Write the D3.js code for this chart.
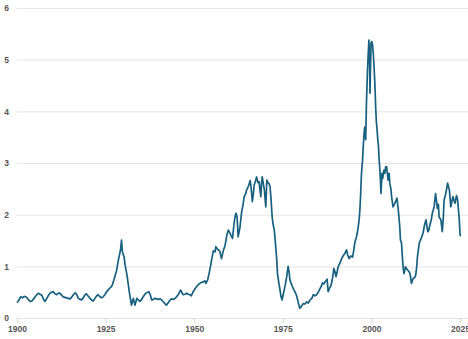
<!DOCTYPE html>
<html>
<head>
<meta charset="utf-8">
<script src="https://cdn.jsdelivr.net/npm/d3@7/dist/d3.min.js"></script>
<style>
  html, body { margin: 0; padding: 0; background: #fff; }
  svg { display: block; }
  .tick text { font-family: "Liberation Sans", Arial, sans-serif; font-weight: bold; font-size: 8.5px; fill: #555; }
</style>
</head>
<body>
<svg id="chart" width="468" height="339"></svg>
<script>
// Ratio series, sampled as decimal years
const years = [
  1900.0,1900.5,1901.0,1901.5,1902.0,1902.7,1903.3,1903.7,1904.2,1904.6,1905.2,1905.6,1906.0,1906.5,1907.0,1907.5,1907.9,
  1908.4,1908.9,1909.3,1909.8,1910.2,1910.7,1911.2,1911.6,1912.0,1912.5,1913.0,1913.5,1914.0,1914.5,1915.0,1915.4,1915.9,
  1916.4,1916.9,1917.3,1917.8,1918.2,1918.7,1919.1,1919.5,1920.0,1920.6,1921.0,1921.5,1922.0,1922.5,1922.9,1923.4,1923.9,
  1924.3,1924.8,1925.2,1925.7,1926.2,1926.7,1927.1,1927.6,1928.1,1928.6,1929.0,1929.2,1929.5,1929.7,1929.9,1930.2,1930.5,
  1930.8,1931.1,1931.5,1931.9,1932.3,1932.6,1932.8,1933.1,1933.3,1933.6,1933.8,1934.2,1934.7,1935.2,1935.6,1936.1,1936.6,
  1937.2,1937.6,1938.0,1938.4,1938.9,1939.4,1939.9,1940.4,1940.8,1941.2,1941.7,1942.2,1942.7,1943.2,1943.6,1944.1,1944.6,
  1945.0,1945.5,1946.0,1946.2,1946.6,1946.9,1947.4,1947.9,1948.3,1948.8,1949.2,1949.7,1950.2,1950.7,1951.1,1951.6,1952.1,
  1952.6,1953.0,1953.3,1953.8,1954.2,1954.6,1954.9,1955.4,1955.9,1956.1,1956.5,1956.8,1957.2,1957.7,1958.2,1958.7,1959.2,
  1959.6,1960.0,1960.3,1960.8,1961.2,1961.5,1961.8,1962.1,1962.4,1962.9,1963.4,1963.8,1964.1,1964.5,1964.8,1965.1,1965.4,
  1965.8,1966.1,1966.4,1966.7,1966.9,1967.3,1967.6,1968.0,1968.3,1968.6,1968.8,1969.0,1969.2,1969.5,1969.8,1970.2,1970.5,
  1970.8,1971.1,1971.4,1971.7,1972.0,1972.3,1972.6,1972.8,1973.0,1973.3,1973.5,1973.9,1974.2,1974.5,1974.8,1975.1,1975.4,
  1975.8,1976.1,1976.5,1976.8,1977.0,1977.4,1977.7,1978.1,1978.4,1978.8,1979.2,1979.5,1979.8,1980.2,1980.5,1980.8,1981.2,
  1981.7,1982.2,1982.7,1983.2,1983.6,1984.1,1984.5,1985.0,1985.5,1985.9,1986.2,1986.6,1986.9,1987.2,1987.5,1987.8,1988.2,
  1988.5,1988.9,1989.2,1989.4,1989.7,1990.0,1990.3,1990.6,1991.1,1991.6,1992.0,1992.5,1993.0,1993.3,1993.7,1994.2,1994.7,
  1995.0,1995.3,1995.7,1996.0,1996.3,1996.6,1996.8,1997.0,1997.2,1997.5,1997.7,1998.0,1998.2,1998.4,1998.6,1998.9,1999.1,
  1999.3,1999.5,1999.6,1999.8,1999.9,2000.1,2000.3,2000.5,2000.7,2001.0,2001.2,2001.4,2001.6,2001.8,2002.0,2002.2,2002.4,
  2002.6,2002.7,2003.0,2003.2,2003.5,2003.8,2004.0,2004.3,2004.7,2005.0,2005.2,2005.5,2005.7,2006.1,2006.6,2007.0,2007.2,
  2007.6,2008.0,2008.2,2008.5,2008.8,2009.0,2009.2,2009.6,2010.0,2010.2,2010.6,2010.9,2011.3,2011.8,2012.2,2012.5,2012.8,
  2013.0,2013.5,2013.8,2014.2,2014.6,2014.9,2015.4,2015.9,2016.2,2016.5,2016.9,2017.2,2017.7,2018.1,2018.4,2018.6,2018.9,
  2019.1,2019.6,2020.0,2020.3,2020.5,2021.0,2021.5,2022.0,2022.4,2022.7,2023.0,2023.3,2023.6,2024.0,2024.3,2024.5,2024.8,
  2025.0,2025.1
];

const values = [
  0.30,0.34,0.41,0.39,0.42,0.40,0.35,0.32,0.33,0.36,0.42,0.45,0.48,0.46,0.44,0.36,0.32,
  0.38,0.44,0.48,0.50,0.51,0.47,0.45,0.48,0.48,0.45,0.41,0.40,0.39,0.38,0.37,0.40,0.45,
  0.49,0.45,0.38,0.36,0.35,0.39,0.44,0.47,0.43,0.38,0.35,0.33,0.38,0.43,0.45,0.41,0.39,
  0.41,0.45,0.50,0.54,0.58,0.61,0.68,0.80,0.92,1.12,1.25,1.32,1.51,1.30,1.24,1.19,1.03,
  0.92,0.80,0.60,0.41,0.25,0.33,0.38,0.30,0.25,0.33,0.38,0.35,0.32,0.36,0.41,0.46,0.49,
  0.51,0.45,0.35,0.36,0.38,0.37,0.36,0.37,0.35,0.32,0.28,0.25,0.30,0.35,0.37,0.36,0.38,
  0.41,0.45,0.52,0.54,0.48,0.45,0.46,0.48,0.46,0.45,0.43,0.51,0.56,0.61,0.64,0.67,0.69,
  0.70,0.72,0.67,0.74,0.86,1.00,1.12,1.30,1.28,1.38,1.34,1.32,1.30,1.15,1.30,1.40,1.60,
  1.70,1.66,1.61,1.54,1.80,1.95,2.03,1.96,1.57,1.75,2.06,2.20,2.35,2.40,2.48,2.52,2.57,
  2.66,2.50,2.25,2.40,2.57,2.65,2.73,2.62,2.64,2.45,2.35,2.60,2.73,2.60,2.48,2.15,2.67,
  2.62,2.60,2.55,2.28,1.95,1.80,1.70,1.55,1.38,1.12,0.86,0.67,0.55,0.41,0.35,0.45,0.54,
  0.68,0.80,1.00,0.88,0.74,0.66,0.61,0.55,0.51,0.45,0.35,0.26,0.19,0.22,0.25,0.28,0.27,
  0.31,0.29,0.35,0.38,0.45,0.43,0.45,0.50,0.57,0.62,0.68,0.66,0.70,0.72,0.75,0.51,0.58,
  0.61,0.72,0.85,0.96,0.90,0.80,0.88,0.99,1.06,1.15,1.20,1.25,1.32,1.22,1.15,1.20,1.18,
  1.30,1.45,1.55,1.64,1.77,1.95,2.15,2.45,2.80,3.05,3.32,3.64,3.70,3.45,4.15,4.80,5.10,
  5.38,4.90,4.35,5.00,5.32,5.35,5.30,5.15,4.93,4.50,4.09,3.80,3.64,3.45,3.32,3.05,2.86,
  2.60,2.41,2.80,2.70,2.86,2.80,2.92,2.93,2.67,2.80,2.60,2.50,2.35,2.15,2.22,2.28,2.32,
  2.09,1.77,1.51,1.45,1.12,0.95,0.86,0.99,0.95,0.93,0.90,0.86,0.67,0.77,0.78,0.83,1.00,
  1.19,1.45,1.50,1.57,1.65,1.77,1.90,1.67,1.70,1.80,1.90,2.03,2.15,2.41,2.25,2.12,2.20,
  1.96,1.90,1.67,1.95,2.28,2.41,2.61,2.48,2.15,2.25,2.35,2.28,2.22,2.37,2.30,2.15,1.90,
  1.64,1.58
];

const xTickValues = [1900, 1925, 1950, 1975, 2000, 2025];
const yTickValues = [0, 1, 2, 3, 4, 5, 6];

const width = 468, height = 339;
const margin = { top: 8, right: 8, bottom: 21, left: 17 };

const svg = d3.select("#chart");

const x = d3.scaleLinear()
  .domain([1900, 2025])
  .range([margin.left, width - margin.right]);

const y = d3.scaleLinear()
  .domain([0, 6])
  .range([height - margin.bottom, margin.top]);

// Horizontal gridlines with value labels on the left
const yAxis = svg.append("g")
  .attr("transform", `translate(${margin.left},0)`)
  .call(d3.axisLeft(y)
    .tickValues(yTickValues)
    .tickFormat(d3.format("d"))
    .tickSize(-(width - margin.left))
    .tickPadding(8));
yAxis.select(".domain").remove();
yAxis.selectAll(".tick line").attr("stroke", "#e4e4e4").attr("stroke-width", 1);

// Year axis along the baseline
const xAxis = svg.append("g")
  .attr("transform", `translate(0,${height - margin.bottom})`)
  .call(d3.axisBottom(x)
    .tickValues(xTickValues)
    .tickFormat(d3.format("d"))
    .tickSize(5)
    .tickPadding(3));
xAxis.select(".domain").remove();
xAxis.selectAll(".tick line").attr("stroke", "#d6d6d6");

const points = years.map((yr, i) => [yr, values[i]]);

const line = d3.line()
  .x(d => x(d[0]))
  .y(d => y(d[1]));

svg.append("path")
  .datum(points)
  .attr("fill", "none")
  .attr("stroke", "#17607f")
  .attr("stroke-width", 1.7)
  .attr("stroke-linejoin", "round")
  .attr("d", line);
</script>
</body>
</html>
